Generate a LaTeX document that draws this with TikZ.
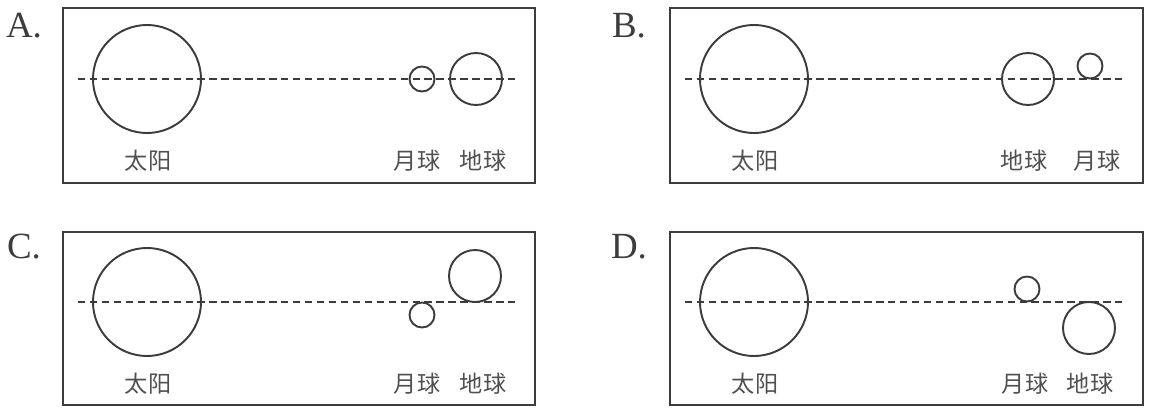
\documentclass[tikz,border=0pt]{standalone}
\usepackage{fontspec}
\newfontfamily\cjk{Noto Sans CJK SC}
\newfontfamily\optfont{Liberation Serif}
\definecolor{inkgray}{HTML}{3C3C3C}
\definecolor{txtgray}{HTML}{505050}
\tikzset{
  frame/.style={draw=inkgray, line width=1.1pt},
  ball/.style={draw=inkgray, line width=1.1pt},
  axisline/.style={draw=inkgray, line width=1.2pt, dash pattern=on 4.2pt off 2.6pt},
  bodyname/.style={text=txtgray, font=\cjk\fontsize{13.2}{15}\selectfont, inner sep=0pt},
  optname/.style={text=inkgray, font=\optfont\fontsize{21}{24}\selectfont, inner sep=0pt}
}
\begin{document}
\begin{tikzpicture}[x=0.02cm, y=-0.02cm]
  \useasboundingbox (0,0) rectangle (1164,412);

  % A
  \begin{scope}
    \node[optname] (optA) at (24,26) {A.};
    \draw[frame] (63,8) rectangle (535,183);
    \coordinate (lA) at (78,79); \coordinate (rA) at (518,79);
    \draw[axisline] (lA) -- (rA);
    \draw[ball] (147,79) circle (54);
    \draw[ball] (422,79) circle (12.5);
    \draw[ball] (476,79) circle (26);
    \node[bodyname] (sunA) at (148,161) {太阳};
    \node[bodyname] (moonA) at (417,161) {月球};
    \node[bodyname] (earthA) at (483,161) {地球};
  \end{scope}

  % B
  \begin{scope}[xshift=607*0.02cm]
    \node[optname] (optB) at (22,26) {B.};
    \draw[frame] (63,8) rectangle (536,183);
    \coordinate (lB) at (78,79); \coordinate (rB) at (518,79);
    \draw[axisline] (lB) -- (rB);
    \draw[ball] (147,79) circle (54);
    \draw[ball] (421,79) circle (26);
    \draw[ball] (483,66) circle (12.5);
    \node[bodyname] (sunB) at (148,161) {太阳};
    \node[bodyname] (earthB) at (417,161) {地球};
    \node[bodyname] (moonB) at (490,161) {月球};
  \end{scope}

  % C
  \begin{scope}[yshift=-223*0.02cm]
    \node[optname] (optC) at (24,24) {C.};
    \draw[frame] (63,9) rectangle (535,182);
    \coordinate (lC) at (78,79); \coordinate (rC) at (518,79);
    \draw[axisline] (lC) -- (rC);
    \draw[ball] (147,79) circle (54);
    \draw[ball] (422,92) circle (12.5);
    \draw[ball] (475,53) circle (26);
    \node[bodyname] (sunC) at (148,161) {太阳};
    \node[bodyname] (moonC) at (417,161) {月球};
    \node[bodyname] (earthC) at (483,161) {地球};
  \end{scope}

  % D
  \begin{scope}[xshift=607*0.02cm, yshift=-223*0.02cm]
    \node[optname] (optD) at (22,24) {D.};
    \draw[frame] (63,9) rectangle (536,182);
    \coordinate (lD) at (78,79); \coordinate (rD) at (518,79);
    \draw[axisline] (lD) -- (rD);
    \draw[ball] (147,79) circle (54);
    \draw[ball] (420,66) circle (12.5);
    \draw[ball] (482,105) circle (26);
    \node[bodyname] (sunD) at (148,161) {太阳};
    \node[bodyname] (moonD) at (418,161) {月球};
    \node[bodyname] (earthD) at (483,161) {地球};
  \end{scope}
\end{tikzpicture}
\end{document}
